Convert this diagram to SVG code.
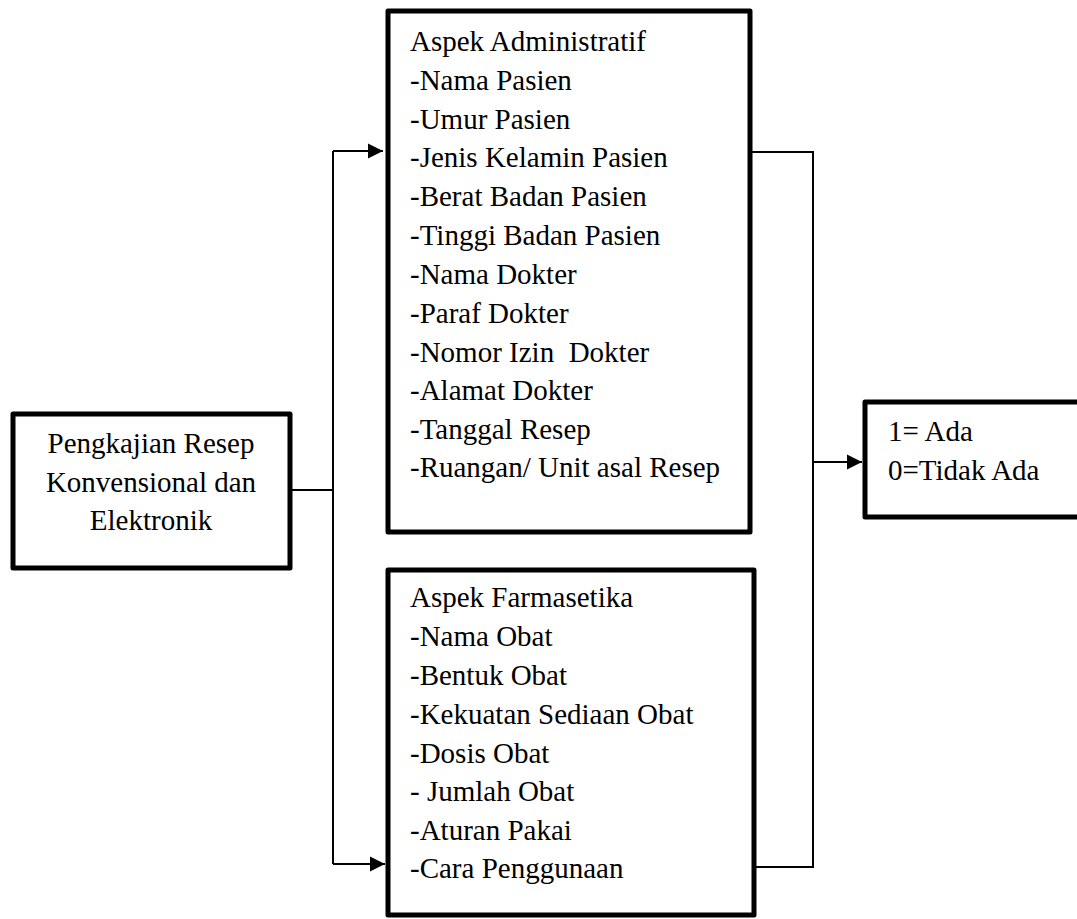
<svg xmlns="http://www.w3.org/2000/svg" width="1077" height="919" viewBox="0 0 1077 919">
<style>
.box{fill:#fff;stroke:#000;stroke-width:5;stroke-linejoin:round}
.t{font-family:"Liberation Serif","Times New Roman",serif;font-size:29px;fill:#000}
.c{fill:none;stroke:#000;stroke-width:2}
</style>
<defs>
<marker id="ah" markerUnits="userSpaceOnUse" markerWidth="16" markerHeight="16" refX="15" refY="8" orient="auto">
<path d="M0,0.5 L15,8 L0,15.5 Z" fill="#000"/>
</marker>
</defs>
<g id="connectors">
<path class="c" d="M290,490 H333"/>
<path class="c" d="M333,151 V864"/>
<path class="c" d="M333,151 H383" marker-end="url(#ah)"/>
<path class="c" d="M333,864 H385" marker-end="url(#ah)"/>
<path class="c" d="M750,152 H813 V867 H754"/>
<path class="c" d="M813,462 H862" marker-end="url(#ah)"/>
</g>
<g id="node-pengkajian">
<rect class="box" x="13" y="414" width="277" height="154"/>
<text class="t" text-anchor="middle" x="151" y="453">Pengkajian Resep</text>
<text class="t" text-anchor="middle" x="151" y="492">Konvensional dan</text>
<text class="t" text-anchor="middle" x="151" y="530">Elektronik</text>
</g>
<g id="node-administratif">
<rect class="box" x="388" y="11" width="362" height="521"/>
<text class="t" x="410" y="51">Aspek Administratif</text>
<text class="t" x="410" y="90">-Nama Pasien</text>
<text class="t" x="410" y="128.5">-Umur Pasien</text>
<text class="t" x="410" y="167">-Jenis Kelamin Pasien</text>
<text class="t" x="410" y="206">-Berat Badan Pasien</text>
<text class="t" x="410" y="245">-Tinggi Badan Pasien</text>
<text class="t" x="410" y="284">-Nama Dokter</text>
<text class="t" x="410" y="323">-Paraf Dokter</text>
<text class="t" x="410" y="362" xml:space="preserve">-Nomor Izin  Dokter</text>
<text class="t" x="410" y="400">-Alamat Dokter</text>
<text class="t" x="410" y="439">-Tanggal Resep</text>
<text class="t" x="410" y="477">-Ruangan/ Unit asal Resep</text>
</g>
<g id="node-farmasetika">
<rect class="box" x="388" y="570" width="366" height="345"/>
<text class="t" x="410" y="607">Aspek Farmasetika</text>
<text class="t" x="410" y="646">-Nama Obat</text>
<text class="t" x="410" y="685">-Bentuk Obat</text>
<text class="t" x="410" y="724">-Kekuatan Sediaan Obat</text>
<text class="t" x="410" y="763">-Dosis Obat</text>
<text class="t" x="410" y="801">- Jumlah Obat</text>
<text class="t" x="410" y="840">-Aturan Pakai</text>
<text class="t" x="410" y="878">-Cara Penggunaan</text>
</g>
<g id="node-hasil">
<rect class="box" x="865" y="402" width="240" height="115"/>
<text class="t" x="888" y="441">1= Ada</text>
<text class="t" x="888" y="480">0=Tidak Ada</text>
</g>
</svg>
